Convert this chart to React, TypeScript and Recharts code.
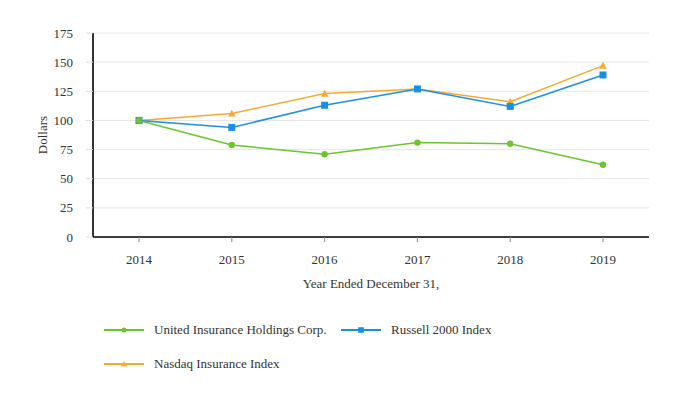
import React from 'react';
import { LineChart, Line, XAxis, YAxis, CartesianGrid, Legend } from 'recharts';

const years = ['2014', '2015', '2016', '2017', '2018', '2019'];
const uihc = [100, 79, 71, 81, 80, 62];
const russell = [100, 94, 113, 127, 112, 139];
const nasdaq = [100, 106, 123, 127, 116, 147];
const yTicks = [0, 25, 50, 75, 100, 125, 150, 175];

const GREEN = '#6cc52c';
const BLUE = '#1b8fe6';
const ORANGE = '#f5aa33';
const FONT = "'Liberation Serif', 'Times New Roman', serif";
const TEXT = '#333333';

const series = [
  { key: 'uihc', name: 'United Insurance Holdings Corp.', color: GREEN, shape: 'circle' },
  { key: 'russell', name: 'Russell 2000 Index', color: BLUE, shape: 'square' },
  { key: 'nasdaq', name: 'Nasdaq Insurance Index', color: ORANGE, shape: 'triangle' },
];

const drawOrder = [series[2], series[1], series[0]];

const data = years.map((year, i) => ({
  year,
  uihc: uihc[i],
  russell: russell[i],
  nasdaq: nasdaq[i],
}));

function Marker({ cx, cy, shape, color, size = 1 }: any) {
  if (cx == null || cy == null) return null;
  if (shape === 'circle') {
    return <circle cx={cx} cy={cy} r={3.2 * size} fill={color} stroke="none" />;
  }
  if (shape === 'square') {
    const s = 3.5 * size;
    return <rect x={cx - s} y={cy - s} width={2 * s} height={2 * s} fill={color} stroke="none" />;
  }
  const s = 3.8 * size;
  return (
    <polygon
      points={`${cx},${cy - s} ${cx + s},${cy + s * 0.8} ${cx - s},${cy + s * 0.8}`}
      fill={color}
      stroke="none"
    />
  );
}

const makeDot = (shape: string, color: string) => (props: any) => (
  <Marker key={`${shape}-${props.index}`} cx={props.cx} cy={props.cy} shape={shape} color={color} />
);

function LegendItem({ s, left, top }: any) {
  return (
    <div
      style={{
        position: 'absolute',
        left,
        top,
        height: 34,
        display: 'flex',
        alignItems: 'center',
        fontFamily: FONT,
        fontSize: 13,
        color: TEXT,
        whiteSpace: 'nowrap',
      }}
    >
      <svg width={40} height={10} style={{ marginRight: 10 }}>
        <line x1={0} y1={5} x2={40} y2={5} stroke={s.color} strokeWidth={2} />
        <Marker cx={20} cy={5} shape={s.shape} color={s.color} size={0.8} />
      </svg>
      <span>{s.name}</span>
    </div>
  );
}

function CustomLegend() {
  return (
    <div style={{ position: 'relative', width: 682, height: 70 }}>
      <LegendItem s={series[0]} left={96} top={0} />
      <LegendItem s={series[1]} left={333} top={0} />
      <LegendItem s={series[2]} left={96} top={34} />
    </div>
  );
}

export default function App() {
  return (
    <div style={{ fontFamily: FONT }}>
      <LineChart
        width={682}
        height={392}
        data={data}
        margin={{ top: 25, right: 41, bottom: 17, left: 25 }}
        style={{ fontFamily: FONT }}
      >
        <CartesianGrid vertical={false} stroke="#e6e6e6" strokeWidth={1} />
        <XAxis
          dataKey="year"
          padding={{ left: 46, right: 46 }}
          height={76}
          axisLine={{ stroke: '#000', strokeWidth: 1.6 }}
          tickLine={{ stroke: '#888' }}
          tickSize={5}
          tickMargin={13}
          tick={{ fill: TEXT, fontSize: 13, fontFamily: FONT }}
          label={{
            content: ({ viewBox }: any) => (
              <text
                x={viewBox.x + viewBox.width / 2}
                y={viewBox.y + 51}
                textAnchor="middle"
                fill={TEXT}
                fontSize={13}
                style={{ fontFamily: FONT }}
              >
                Year Ended December 31,
              </text>
            ),
          }}
        />
        <YAxis
          width={60}
          domain={[0, 175]}
          ticks={yTicks}
          interval={0}
          axisLine={{ stroke: '#000', strokeWidth: 1.6 }}
          tickLine={{ stroke: '#dddddd' }}
          tickSize={7}
          tickMargin={13}
          tick={{ fill: TEXT, fontSize: 13, fontFamily: FONT }}
          label={{
            content: ({ viewBox }: any) => {
              const x = viewBox.x + 9;
              const y = viewBox.y + viewBox.height / 2;
              return (
                <text
                  x={x}
                  y={y}
                  transform={`rotate(-90, ${x}, ${y})`}
                  textAnchor="middle"
                  dominantBaseline="central"
                  fill={TEXT}
                  fontSize={13}
                  style={{ fontFamily: FONT }}
                >
                  Dollars
                </text>
              );
            },
          }}
        />
        <Legend
          verticalAlign="bottom"
          content={() => <CustomLegend />}
          wrapperStyle={{ left: 0, width: 682, height: 70 }}
        />
        {drawOrder.map((s) => (
          <Line
            key={s.key}
            type="linear"
            dataKey={s.key}
            name={s.name}
            stroke={s.color}
            strokeWidth={1.5}
            dot={makeDot(s.shape, s.color)}
            activeDot={false}
            isAnimationActive={false}
          />
        ))}
      </LineChart>
    </div>
  );
}
